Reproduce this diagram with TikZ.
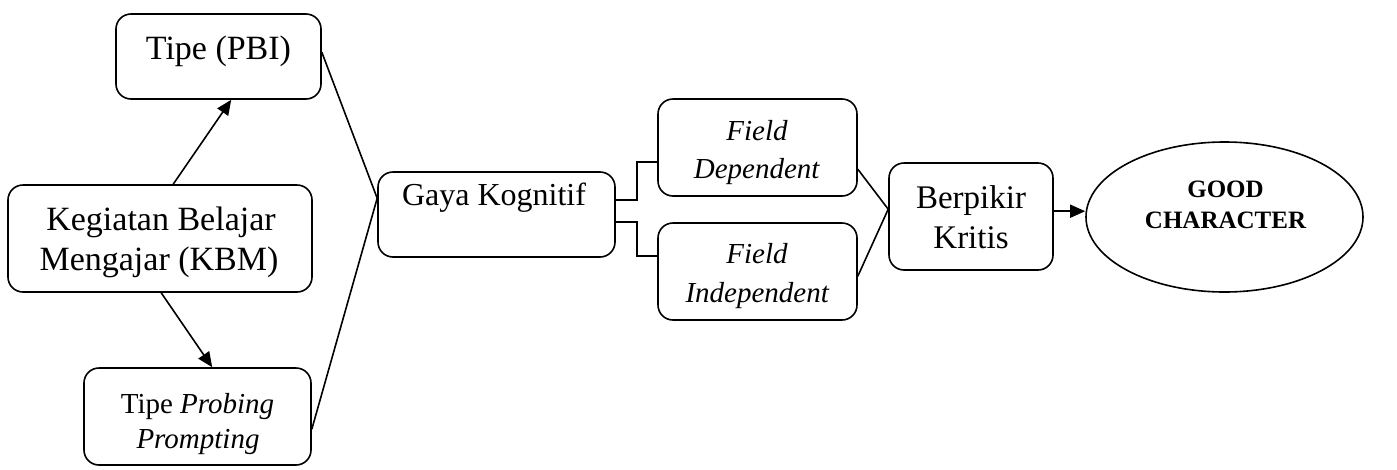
\documentclass[tikz,border=0pt]{standalone}
\usepackage{fontspec}
\setmainfont{Liberation Serif}
\usetikzlibrary{calc,arrows.meta,shapes.geometric}

\tikzset{
  box/.style={draw, line width=1.6pt, rounded corners=15pt, inner sep=0pt},
  oval/.style={draw, line width=1.6pt, ellipse, inner sep=0pt},
  link/.style={line width=1.6pt},
  arr/.style={line width=1.6pt, -{Triangle[length=15pt,width=13pt]}},
  txt/.style={anchor=base, inner sep=0pt},
}
\newcommand{\fs}[1]{\fontsize{#1}{#1}\selectfont}

\begin{document}
\begin{tikzpicture}[x=1pt,y=-1pt]
\useasboundingbox (0,0) rectangle (1397,469);

% boxes
\node[box, minimum width=205, minimum height=85]  (pbi) at (218.5,56.5) {};
\node[box, minimum width=304, minimum height=107] (kbm) at (160,238.5) {};
\node[box, minimum width=227, minimum height=97]  (pp)  at (197.5,416.5) {};
\node[box, minimum width=237, minimum height=85]  (gk)  at (496.5,214.5) {};
\node[box, minimum width=199, minimum height=97]  (fd)  at (757.5,147.5) {};
\node[box, minimum width=199, minimum height=97]  (fi)  at (757.5,271.5) {};
\node[box, minimum width=164, minimum height=107] (bk)  at (971,216.5) {};
\node[oval, minimum width=277, minimum height=150] (gc) at (1224.5,217) {};

% labels, one node per line, placed by baseline
\node[txt, font=\fs{34}] (tpbi)  at (218.5,59) {Tipe (PBI)};
\node[txt, font=\fs{34}] (tkbm1) at (161,230) {Kegiatan Belajar};
\node[txt, font=\fs{34}] (tkbm2) at (159,270) {Mengajar (KBM)};
\node[txt, font=\fs{29}] (tpp1)  at (197.5,413) {Tipe \textit{Probing}};
\node[txt, font=\fs{29}] (tpp2)  at (198,448) {\textit{Prompting}};
\node[txt, font=\fs{32}] (tgk)   at (494,205) {Gaya Kognitif};
\node[txt, font=\fs{29}] (tfd1)  at (757,140) {\textit{Field}};
\node[txt, font=\fs{29}] (tfd2)  at (757,178) {\textit{Dependent}};
\node[txt, font=\fs{29}] (tfi1)  at (757,263) {\textit{Field}};
\node[txt, font=\fs{29}] (tfi2)  at (757.5,302) {\textit{Independent}};
\node[txt, font=\fs{33}] (tbk1)  at (971,208) {Berpikir};
\node[txt, font=\fs{33}] (tbk2)  at (971,248) {Kritis};
\node[txt, font=\bfseries\fs{25}] (tgc1) at (1225.5,197) {GOOD};
\node[txt, font=\bfseries\fs{25}] (tgc2) at (1225.5,228) {CHARACTER};

% junction points on the box edges
\coordinate (gkin)  at ($(gk.north west)+(0,27)$);
\coordinate (bkin)  at ($(bk.north west)+(0,47)$);
\coordinate (bkout) at ($(bk.north east)+(0,49)$);

% KBM branches
\draw[arr] ($(kbm.north west)+(166,0)$) -- ($(pbi.south west)+(116,0)$);
\draw[arr] ($(kbm.south west)+(154,0)$) -- ($(pp.north west)+(129,0)$);

% into Gaya Kognitif
\draw[link] ($(pbi.north east)+(0,39)$) -- (gkin);
\draw[link] ($(pp.north east)+(0,62)$) -- (gkin);

% Gaya Kognitif to field styles
\draw[link] ($(gk.north east)+(0,29)$) -- ++(21,0) |- ($(fd.north west)+(0,64)$);
\draw[link] ($(gk.north east)+(0,51)$) -- ++(21,0) |- ($(fi.north west)+(0,34)$);

% into Berpikir Kritis
\draw[link] ($(fd.north east)+(0,71)$) -- (bkin);
\draw[link] ($(fi.north east)+(0,54)$) -- (bkin);

% to Good Character
\draw[arr] (bkout) -- (gc.west |- bkout);
\end{tikzpicture}
\end{document}
